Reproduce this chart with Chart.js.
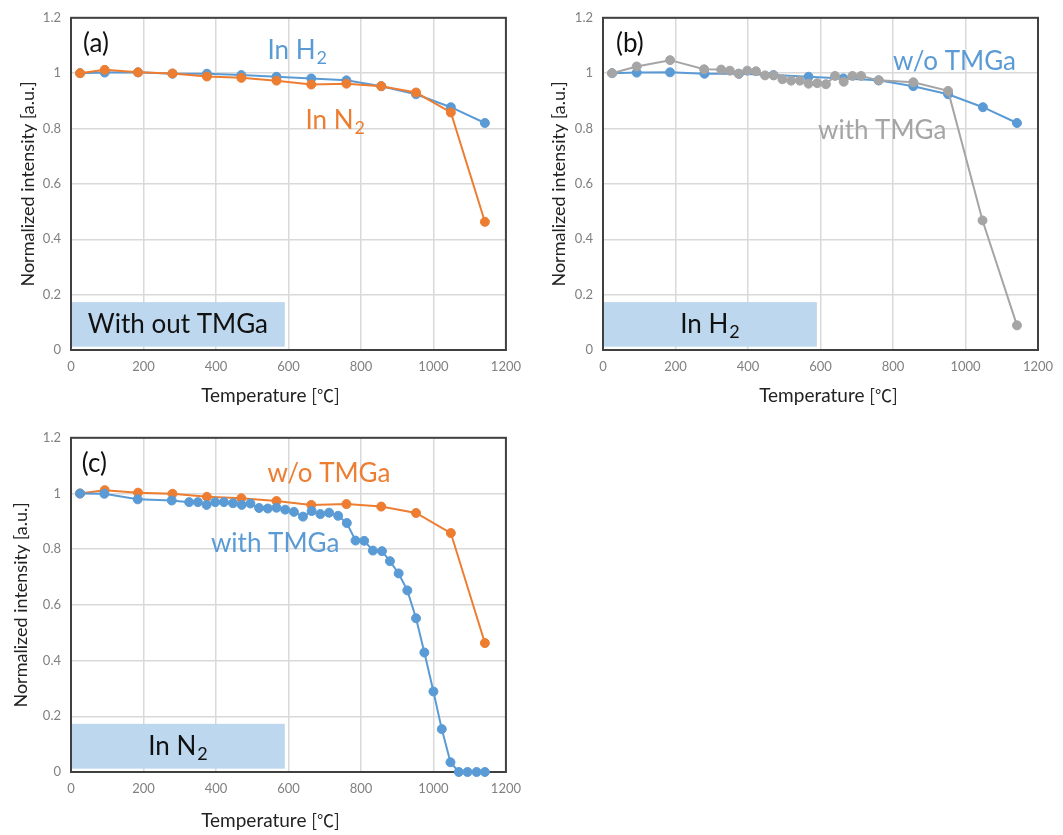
<!DOCTYPE html>
<html>
<head>
<meta charset="utf-8">
<script src="https://cdn.jsdelivr.net/npm/chart.js@4"></script>
<style>
  html, body { margin: 0; padding: 0; background: #fff; }
  body { width: 1063px; height: 835px; position: relative; overflow: hidden; }
  canvas { position: absolute; }
</style>
</head>
<body>
<canvas id="chartA" width="530" height="415" style="left:0;top:0"></canvas>
<canvas id="chartB" width="533" height="415" style="left:530px;top:0"></canvas>
<canvas id="chartC" width="530" height="415" style="left:0;top:420px"></canvas>
<script>
// growth temperature [C] for the runs without TMGa
var tempsNoTmga = [25, 93, 185, 280, 375, 470, 567, 663, 760, 856, 952, 1048, 1142];
var inH2 = [1.000, 1.002, 1.003, 0.998, 0.998, 0.993, 0.987, 0.981, 0.974, 0.953, 0.924, 0.877, 0.820];
var inN2 = [1.000, 1.012, 1.003, 0.999, 0.988, 0.983, 0.973, 0.959, 0.962, 0.953, 0.930, 0.858, 0.463];

// with TMGa, H2 ambient
var tempsTmgaH2 = [25, 93, 185, 279, 326, 350, 374, 398, 422, 447, 471, 495, 519, 543, 567, 591, 615,
                   640, 664, 688, 712, 761, 856, 952, 1047, 1142];
var tmgaH2 = [1.000, 1.024, 1.047, 1.014, 1.013, 1.009, 0.998, 1.009, 1.007, 0.992, 0.992, 0.978, 0.973,
              0.973, 0.962, 0.964, 0.960, 0.990, 0.969, 0.990, 0.990, 0.974, 0.967, 0.936, 0.468, 0.089];

// with TMGa, N2 ambient
var tempsTmgaN2 = [25, 92, 184, 278, 326, 350, 374, 398, 422, 447, 471, 495, 519, 543, 567, 591, 615,
                   640, 664, 688, 712, 737, 761, 785, 809, 833, 858, 880, 904, 928, 952, 975, 1000,
                   1023, 1047, 1070, 1094, 1119, 1142];
var tmgaN2 = [1.000, 0.999, 0.979, 0.975, 0.969, 0.969, 0.959, 0.969, 0.969, 0.965, 0.959, 0.964, 0.948,
              0.946, 0.949, 0.942, 0.934, 0.917, 0.937, 0.926, 0.931, 0.920, 0.894, 0.831, 0.830, 0.795,
              0.793, 0.757, 0.713, 0.652, 0.552, 0.429, 0.289, 0.154, 0.035, 0.0, 0.0, 0.0, 0.0];

var xTicks = [0, 200, 400, 600, 800, 1000, 1200];
var yTicks = [0, 0.2, 0.4, 0.6, 0.8, 1, 1.2];
var xTitle = ['Temperature ', '[℃]'];
var yTitle = 'Normalized intensity [a.u.]';

var BLUE = '#5b9bd5', ORANGE = '#ed7d31', GRAY = '#a5a5a5';
var FONT = "Lato, 'Noto Sans', 'Noto Sans CJK JP', sans-serif";
var CJK = "'Noto Sans CJK JP', sans-serif";
var NOTE_SIZE = 26, SUB_SIZE = 18;

function points(xs, ys) {
    return xs.map(function (t, i) { return { x: t, y: ys[i] }; });
}

function series(xs, ys, color) {
    return {
        data: points(xs, ys),
        borderColor: color,
        backgroundColor: color,
        borderWidth: 2,
        pointRadius: 4.5,
        pointBorderWidth: 1,
        pointBorderColor: color,
        tension: 0,
        clip: false
    };
}

// text with an optional subscript part, e.g. "In H" + "2"
function drawLabel(ctx, text, sub, px, py, color, align) {
    ctx.font = NOTE_SIZE + 'px ' + FONT;
    var w1 = ctx.measureText(text).width;
    ctx.font = SUB_SIZE + 'px ' + FONT;
    var w2 = sub ? ctx.measureText(sub).width + 1 : 0;
    var left = align === 'center' ? px - (w1 + w2) / 2 : px;
    ctx.fillStyle = color;
    ctx.textAlign = 'left';
    ctx.textBaseline = 'middle';
    ctx.font = NOTE_SIZE + 'px ' + FONT;
    ctx.fillText(text, left, py);
    if (sub) {
        ctx.font = SUB_SIZE + 'px ' + FONT;
        ctx.fillText(sub, left + w1 + 1, py + NOTE_SIZE * 0.3);
    }
}

var panelDecor = {
    id: 'panelDecor',
    beforeDatasetsDraw: function (chart, args, opts) {
        var ctx = chart.ctx, a = chart.chartArea, x = chart.scales.x, y = chart.scales.y;
        var b = opts.box;
        ctx.save();
        // shaded condition box in the lower left corner
        var x0 = x.getPixelForValue(b.x0), x1 = x.getPixelForValue(b.x1);
        var y0 = y.getPixelForValue(b.y0), y1 = y.getPixelForValue(b.y1);
        ctx.fillStyle = '#bdd7ee';
        ctx.fillRect(x0, y1, x1 - x0, y0 - y1);
        drawLabel(ctx, b.text, b.sub, (x0 + x1) / 2, (y0 + y1) / 2, '#111', 'center');
        // plot frame
        ctx.strokeStyle = '#404040';
        ctx.lineWidth = 2;
        ctx.strokeRect(a.left, a.top, a.width, a.height);
        ctx.restore();
    },
    afterDatasetsDraw: function (chart, args, opts) {
        var ctx = chart.ctx, a = chart.chartArea, x = chart.scales.x, y = chart.scales.y;
        ctx.save();
        opts.notes.forEach(function (n) {
            drawLabel(ctx, n.text, n.sub, x.getPixelForValue(n.x), y.getPixelForValue(n.y), n.color, 'left');
        });
        // x axis title, the unit part set in the CJK face for the full-width degree sign
        ctx.fillStyle = '#222';
        ctx.textBaseline = 'middle';
        ctx.textAlign = 'left';
        ctx.font = '19px ' + FONT;
        var w1 = ctx.measureText(xTitle[0]).width;
        ctx.font = '17px ' + CJK;
        var w2 = ctx.measureText(xTitle[1]).width;
        var left = (a.left + a.right) / 2 + opts.titleDx - (w1 + w2) / 2;
        var ty = a.bottom + opts.titleDy;
        ctx.font = '19px ' + FONT;
        ctx.fillText(xTitle[0], left, ty);
        ctx.font = '17px ' + CJK;
        ctx.fillText(xTitle[1], left + w1, ty);
        ctx.restore();
    }
};

function makeChart(id, datasets, cfg) {
    return new Chart(document.getElementById(id), {
        type: 'line',
        data: { datasets: datasets },
        options: {
            responsive: false,
            animation: false,
            events: [],
            layout: { padding: { left: 0, top: cfg.padTop, right: cfg.padRight, bottom: 0 } },
            plugins: {
                legend: { display: false },
                tooltip: { enabled: false },
                panelDecor: { box: cfg.box, notes: cfg.notes, titleDx: cfg.titleDx, titleDy: cfg.titleDy }
            },
            scales: {
                x: {
                    type: 'linear',
                    min: 0,
                    max: 1200,
                    afterBuildTicks: function (s) { s.ticks = xTicks.map(function (v) { return { value: v }; }); },
                    afterFit: function (s) { s.height = cfg.xHeight; },
                    grid: { color: '#d9d9d9', lineWidth: 1.5, drawTicks: false },
                    border: { display: false },
                    ticks: {
                        color: '#808080',
                        font: { family: FONT, size: 13 },
                        padding: 9,
                        maxRotation: 0,
                        callback: function (v) { return String(v); }
                    }
                },
                y: {
                    type: 'linear',
                    min: 0,
                    max: 1.2,
                    afterBuildTicks: function (s) { s.ticks = yTicks.map(function (v) { return { value: v }; }); },
                    afterFit: function (s) { s.width = cfg.yWidth; },
                    grid: { color: '#d9d9d9', lineWidth: 1.5, drawTicks: false },
                    border: { display: false },
                    ticks: {
                        color: '#808080',
                        font: { family: FONT, size: 13 },
                        padding: 10,
                        callback: function (v) { return String(v); }
                    },
                    title: {
                        display: true,
                        text: yTitle,
                        color: '#222',
                        font: { family: FONT, size: 18 },
                        padding: { top: cfg.yTitlePad, bottom: 0 }
                    }
                }
            }
        },
        plugins: [panelDecor]
    });
}

// (a) without TMGa: H2 vs N2
makeChart('chartA', [
    series(tempsNoTmga, inN2, ORANGE),
    series(tempsNoTmga, inH2, BLUE)
], {
    padTop: 13, padRight: 21, xHeight: 65, yWidth: 71, yTitlePad: 17, titleDx: -18, titleDy: 46,
    box: { x0: 0, x1: 590, y0: 0.012, y1: 0.173, text: 'With out TMGa' },
    notes: [
        { text: '(a)', x: 33, y: 1.108, color: '#111' },
        { text: 'In H', sub: '2', x: 542, y: 1.083, color: BLUE },
        { text: 'In N', sub: '2', x: 647, y: 0.83, color: ORANGE }
    ]
});

// (b) H2 ambient: with / without TMGa
makeChart('chartB', [
    series(tempsTmgaH2, tmgaH2, GRAY),
    series(tempsNoTmga, inH2, BLUE)
], {
    padTop: 13, padRight: 25, xHeight: 65, yWidth: 73, yTitlePad: 18, titleDx: 8, titleDy: 46,
    box: { x0: 0, x1: 590, y0: 0.012, y1: 0.173, text: 'In H', sub: '2' },
    notes: [
        { text: '(b)', x: 36, y: 1.108, color: '#111' },
        { text: 'w/o TMGa', x: 800, y: 1.043, color: BLUE },
        { text: 'with TMGa', x: 593, y: 0.794, color: GRAY }
    ]
});

// (c) N2 ambient: with / without TMGa
makeChart('chartC', [
    series(tempsTmgaN2, tmgaN2, BLUE),
    series(tempsNoTmga, inN2, ORANGE)
], {
    padTop: 15, padRight: 21, xHeight: 63, yWidth: 71, yTitlePad: 10, titleDx: -18, titleDy: 49,
    box: { x0: 0, x1: 590, y0: 0.012, y1: 0.173, text: 'In N', sub: '2' },
    notes: [
        { text: '(c)', x: 30, y: 1.108, color: '#111' },
        { text: 'w/o TMGa', x: 542, y: 1.072, color: ORANGE },
        { text: 'with TMGa', x: 386, y: 0.819, color: BLUE }
    ]
});
</script>
</body>
</html>
